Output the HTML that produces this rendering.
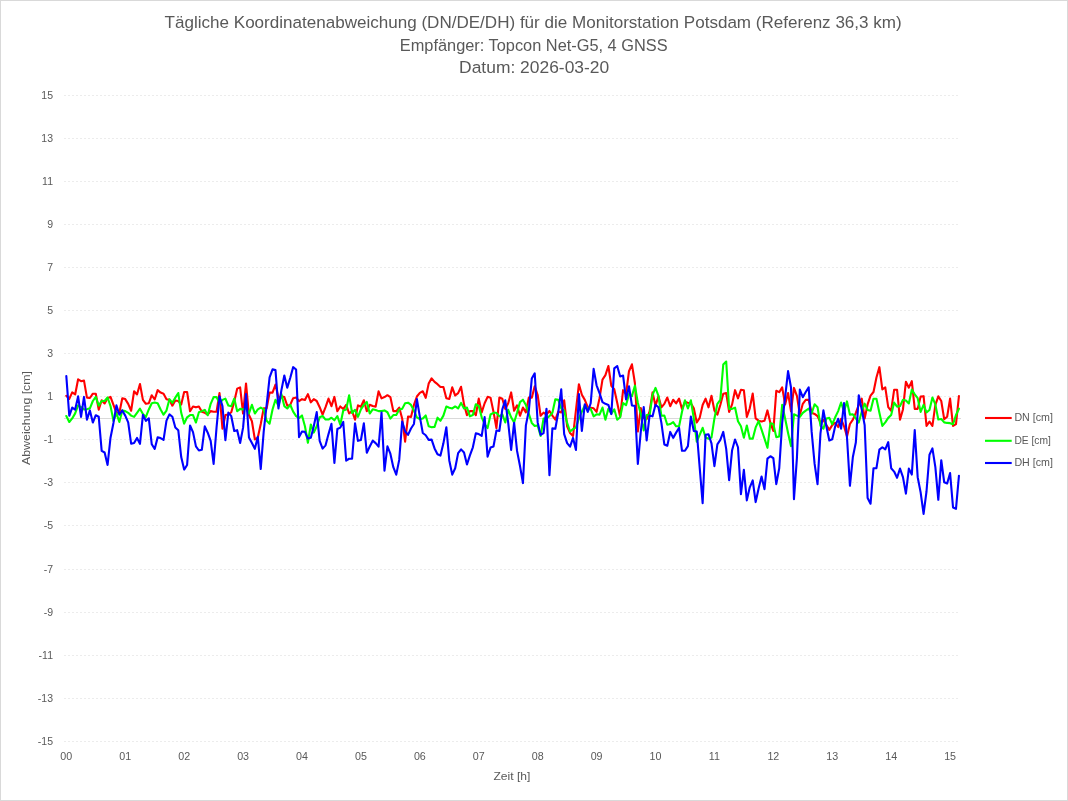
<!DOCTYPE html>
<html lang="de"><head><meta charset="utf-8"><title>Koordinatenabweichung Potsdam</title>
<style>html,body{margin:0;padding:0;background:#fff;}body{width:1068px;height:801px;overflow:hidden;font-family:"Liberation Sans",sans-serif;}#chart{position:absolute;left:0;top:0;width:1068px;height:801px;will-change:transform;}svg{display:block;}text{font-family:"Liberation Sans",sans-serif;fill:#595959}</style></head><body>
<div id="chart">
<svg width="1068" height="801" viewBox="0 0 1068 801">
<rect x="0" y="0" width="1068" height="801" fill="#ffffff"/>
<rect x="0.5" y="0.5" width="1067" height="800" fill="none" stroke="#d9d9d9" stroke-width="1"/>
<text x="164.6" y="28.0" font-size="17.20" textLength="737.1" lengthAdjust="spacingAndGlyphs">Tägliche Koordinatenabweichung (DN/DE/DH) für die Monitorstation Potsdam (Referenz 36,3 km)</text>
<text x="399.8" y="51.0" font-size="17.20" textLength="267.8" lengthAdjust="spacingAndGlyphs">Empfänger: Topcon Net-G5, 4 GNSS</text>
<text x="459.1" y="73.4" font-size="17.20" textLength="150.1" lengthAdjust="spacingAndGlyphs">Datum: 2026-03-20</text>
<g stroke="#d9d9d9" stroke-width="1" stroke-dasharray="1 3" fill="none">
<line x1="64.5" y1="95.50" x2="960.0" y2="95.50"/>
<line x1="64.5" y1="138.50" x2="960.0" y2="138.50"/>
<line x1="64.5" y1="181.50" x2="960.0" y2="181.50"/>
<line x1="64.5" y1="224.50" x2="960.0" y2="224.50"/>
<line x1="64.5" y1="267.50" x2="960.0" y2="267.50"/>
<line x1="64.5" y1="310.50" x2="960.0" y2="310.50"/>
<line x1="64.5" y1="353.50" x2="960.0" y2="353.50"/>
<line x1="64.5" y1="396.50" x2="960.0" y2="396.50"/>
<line x1="64.5" y1="439.50" x2="960.0" y2="439.50"/>
<line x1="64.5" y1="482.50" x2="960.0" y2="482.50"/>
<line x1="64.5" y1="525.50" x2="960.0" y2="525.50"/>
<line x1="64.5" y1="569.50" x2="960.0" y2="569.50"/>
<line x1="64.5" y1="612.50" x2="960.0" y2="612.50"/>
<line x1="64.5" y1="655.50" x2="960.0" y2="655.50"/>
<line x1="64.5" y1="698.50" x2="960.0" y2="698.50"/>
<line x1="64.5" y1="741.50" x2="960.0" y2="741.50"/>
</g>
<line x1="64.0" y1="418.50" x2="961.0" y2="418.50" stroke="#d9d9d9" stroke-width="1"/>
<g font-size="10.50" text-anchor="end">
<text x="53.0" y="98.70">15</text>
<text x="53.0" y="141.70">13</text>
<text x="53.0" y="184.70">11</text>
<text x="53.0" y="227.70">9</text>
<text x="53.0" y="270.70">7</text>
<text x="53.0" y="313.70">5</text>
<text x="53.0" y="356.70">3</text>
<text x="53.0" y="399.70">1</text>
<text x="53.0" y="442.70">-1</text>
<text x="53.0" y="485.70">-3</text>
<text x="53.0" y="528.70">-5</text>
<text x="53.0" y="572.70">-7</text>
<text x="53.0" y="615.70">-9</text>
<text x="53.0" y="658.70">-11</text>
<text x="53.0" y="701.70">-13</text>
<text x="53.0" y="744.70">-15</text>
</g>
<g font-size="10.70" text-anchor="middle">
<text x="66.32" y="759.7">00</text>
<text x="125.24" y="759.7">01</text>
<text x="184.16" y="759.7">02</text>
<text x="243.08" y="759.7">03</text>
<text x="301.99" y="759.7">04</text>
<text x="360.91" y="759.7">05</text>
<text x="419.83" y="759.7">06</text>
<text x="478.75" y="759.7">07</text>
<text x="537.67" y="759.7">08</text>
<text x="596.58" y="759.7">09</text>
<text x="655.50" y="759.7">10</text>
<text x="714.42" y="759.7">11</text>
<text x="773.34" y="759.7">12</text>
<text x="832.26" y="759.7">13</text>
<text x="891.17" y="759.7">14</text>
<text x="950.09" y="759.7">15</text>
</g>
<text x="493.4" y="780.0" font-size="11.70" textLength="37.0" lengthAdjust="spacingAndGlyphs">Zeit [h]</text>
<text transform="translate(30.0 465.0) rotate(-90)" font-size="11.70" textLength="94.0" lengthAdjust="spacingAndGlyphs">Abweichung [cm]</text>
<polyline points="66.32,395.79 69.27,398.93 72.21,392.42 75.16,394.43 78.11,379.28 81.05,381.17 84.00,380.62 86.94,397.64 89.89,397.98 92.84,393.71 95.78,393.71 98.73,409.60 101.67,400.29 104.62,403.42 107.57,398.20 110.51,396.92 113.46,404.94 116.40,412.81 119.35,412.81 122.30,398.20 125.24,399.10 128.19,403.82 131.13,410.72 134.08,391.30 137.02,394.43 139.97,384.00 142.92,399.89 145.86,403.82 148.81,403.26 151.75,395.23 154.70,399.49 157.65,390.18 160.59,392.58 163.54,393.71 166.48,399.33 169.43,399.89 172.38,405.67 175.32,400.45 178.27,401.01 181.21,404.54 184.16,392.02 187.10,392.02 190.05,411.29 193.00,406.47 195.94,407.35 198.89,406.47 201.83,411.69 204.78,412.81 207.73,414.66 210.67,411.12 213.62,411.69 216.56,411.69 219.51,392.98 222.46,428.70 225.40,415.06 228.35,414.49 231.29,412.25 234.24,401.57 237.19,388.65 240.13,387.37 243.08,413.53 246.02,383.43 248.97,415.06 251.91,421.24 254.86,439.38 257.81,437.53 260.75,424.04 263.70,408.31 266.64,408.31 269.59,392.58 272.54,392.58 275.48,384.56 278.43,397.80 281.37,396.36 284.32,397.08 287.27,405.67 290.21,404.94 293.16,398.20 296.10,397.48 299.05,401.17 301.99,399.16 304.94,400.05 307.89,394.11 310.83,402.30 313.78,399.16 316.72,401.01 319.67,407.19 322.62,414.66 325.56,407.19 328.51,398.60 331.45,406.23 334.40,396.92 337.35,411.29 340.29,406.47 343.24,409.04 346.18,404.78 349.13,413.53 352.08,410.96 355.02,419.71 357.97,405.34 360.91,406.79 363.86,400.29 366.80,411.29 369.75,404.78 372.70,406.07 375.64,406.63 378.59,391.30 381.53,398.36 384.48,397.08 387.43,395.23 390.37,397.08 393.32,411.12 396.26,411.12 399.21,407.59 402.16,418.43 405.10,441.62 408.05,416.58 410.99,416.90 413.94,404.94 416.89,396.52 419.83,392.87 422.78,391.30 425.72,397.80 428.67,383.60 431.61,378.38 434.56,381.91 437.51,384.16 440.45,386.97 443.40,386.97 446.34,398.20 449.29,398.93 452.24,387.37 455.18,395.56 458.13,393.15 461.07,386.80 464.02,404.38 466.97,415.22 469.91,411.12 472.86,411.12 475.80,415.22 478.75,398.60 481.69,412.41 484.64,403.26 487.59,396.85 490.53,397.64 493.48,411.69 496.42,428.14 499.37,397.48 502.32,398.76 505.26,409.04 508.21,403.26 511.15,392.42 514.10,410.72 517.05,405.34 519.99,415.78 522.94,407.59 525.88,412.41 528.83,397.48 531.78,397.80 534.72,386.24 537.67,395.00 540.61,415.78 543.56,412.65 546.50,414.66 549.45,410.96 552.40,415.62 555.34,419.71 558.29,411.52 561.23,412.41 564.18,400.29 567.13,426.29 570.07,433.03 573.02,436.00 575.96,410.00 578.91,384.22 581.86,394.83 584.80,399.89 587.75,407.19 590.69,407.75 593.64,408.31 596.58,411.85 599.53,398.20 602.48,379.66 605.42,375.17 608.37,366.02 611.31,385.84 614.26,389.21 617.21,402.70 620.15,416.90 623.10,390.18 626.04,394.10 628.99,371.24 631.94,364.33 634.88,383.03 637.83,431.51 640.77,408.15 643.72,418.00 646.67,419.10 649.61,411.50 652.56,392.42 655.50,405.67 658.45,396.36 661.39,407.35 664.34,403.82 667.29,397.48 670.23,406.23 673.18,399.73 676.12,403.42 679.07,398.60 682.02,409.04 684.96,401.97 687.91,402.70 690.85,403.26 693.80,408.31 696.75,422.52 699.69,417.87 702.64,404.94 705.58,398.60 708.53,407.35 711.48,395.79 714.42,410.56 717.37,414.66 720.31,404.94 723.26,393.71 726.20,393.15 729.15,411.85 732.10,404.38 735.04,390.18 737.99,398.36 740.93,389.78 743.88,390.34 746.83,416.90 749.77,408.31 752.72,393.55 755.66,418.43 758.61,420.67 761.56,421.40 764.50,420.67 767.45,410.40 770.39,422.92 773.34,430.95 776.28,390.74 779.23,392.18 782.18,387.37 785.12,404.54 788.07,392.98 791.01,411.29 793.96,387.93 796.91,395.96 799.85,414.66 802.80,403.82 805.74,399.89 808.69,399.89 811.64,412.81 814.58,413.93 817.53,416.18 820.47,422.52 823.42,419.95 826.37,425.17 829.31,429.82 832.26,425.17 835.20,422.76 838.15,427.02 841.09,418.83 844.04,426.29 846.99,436.57 849.93,424.04 852.88,419.55 855.82,412.81 858.77,404.94 861.72,398.60 864.66,418.59 867.61,404.38 870.55,395.67 873.50,392.02 876.45,377.42 879.39,367.14 882.34,389.38 885.28,387.37 888.23,407.19 891.17,410.72 894.12,389.78 897.07,389.78 900.01,419.71 902.96,409.44 905.90,381.75 908.85,387.69 911.80,381.19 914.74,408.88 917.69,408.88 920.63,396.52 923.58,396.18 926.53,425.89 929.47,421.64 932.42,425.89 935.36,404.94 938.31,396.36 941.26,401.01 944.20,419.15 947.15,416.74 950.09,398.60 953.04,425.89 955.98,424.04 958.93,396.13" fill="none" stroke="#ff0000" stroke-width="2.1" stroke-linejoin="round" stroke-linecap="round"/>
<polyline points="66.32,416.02 69.27,421.96 72.21,418.43 75.16,413.37 78.11,405.34 81.05,407.19 84.00,409.44 86.94,409.21 89.89,408.31 92.84,401.01 95.78,396.92 98.73,405.67 101.67,401.01 104.62,401.01 107.57,397.48 110.51,406.07 113.46,420.84 116.40,413.21 119.35,421.96 122.30,410.40 125.24,411.12 128.19,412.81 131.13,415.62 134.08,416.90 137.02,412.81 139.97,408.71 142.92,413.93 145.86,416.90 148.81,409.44 151.75,403.26 154.70,402.53 157.65,403.26 160.59,409.44 163.54,414.66 166.48,410.56 169.43,399.16 172.38,402.86 175.32,397.64 178.27,392.98 181.21,412.81 184.16,423.64 187.10,417.30 190.05,415.06 193.00,415.06 195.94,422.52 198.89,412.25 201.83,411.12 204.78,409.84 207.73,415.22 210.67,403.82 213.62,397.08 216.56,397.08 219.51,403.42 222.46,399.89 225.40,398.60 228.35,405.51 231.29,406.23 234.24,398.60 237.19,411.29 240.13,408.88 243.08,409.44 246.02,408.15 248.97,413.53 251.91,404.78 254.86,413.53 257.81,409.44 260.75,407.59 263.70,409.44 266.64,420.67 269.59,423.64 272.54,409.44 275.48,399.73 278.43,405.67 281.37,394.11 284.32,406.07 287.27,408.48 290.21,404.78 293.16,411.69 296.10,416.18 299.05,418.03 301.99,415.46 304.94,426.29 307.89,442.75 310.83,424.44 313.78,432.63 316.72,426.29 319.67,417.30 322.62,416.02 325.56,419.55 328.51,419.55 331.45,417.70 334.40,420.27 337.35,416.02 340.29,424.77 343.24,410.56 346.18,409.44 349.13,395.23 352.08,412.97 355.02,409.84 357.97,416.90 360.91,409.44 363.86,404.94 366.80,401.97 369.75,413.53 372.70,409.28 375.64,410.00 378.59,411.12 381.53,411.12 384.48,410.40 387.43,412.25 390.37,418.59 393.32,415.06 396.26,415.06 399.21,409.44 402.16,408.88 405.10,403.26 408.05,402.70 410.99,404.94 413.94,410.56 416.89,417.30 419.83,419.15 422.78,418.43 425.72,415.46 428.67,426.29 431.61,427.19 434.56,426.85 437.51,417.70 440.45,420.84 443.40,415.62 446.34,406.47 449.29,407.75 452.24,408.48 455.18,406.47 458.13,408.48 461.07,402.87 464.02,408.48 466.97,407.59 469.91,416.34 472.86,415.06 475.80,404.22 478.75,406.07 481.69,417.30 484.64,424.04 487.59,428.14 490.53,414.49 493.48,412.81 496.42,412.81 499.37,416.34 502.32,414.33 505.26,422.52 508.21,409.84 511.15,417.30 514.10,422.52 517.05,412.81 519.99,402.13 522.94,399.73 525.88,404.94 528.83,413.93 531.78,422.92 534.72,425.89 537.67,425.57 540.61,436.00 543.56,418.43 546.50,418.43 549.45,416.18 552.40,412.81 555.34,399.33 558.29,399.89 561.23,408.31 564.18,410.56 567.13,422.92 570.07,431.51 573.02,429.10 575.96,427.42 578.91,418.43 581.86,411.69 584.80,405.34 587.75,409.44 590.69,408.88 593.64,416.34 596.58,414.33 599.53,414.66 602.48,407.59 605.42,419.71 608.37,408.71 611.31,413.53 614.26,409.28 617.21,419.71 620.15,417.30 623.10,403.10 626.04,405.11 628.99,394.11 631.94,396.12 634.88,385.68 637.83,402.70 640.77,413.93 643.72,430.39 646.67,415.06 649.61,415.06 652.56,394.83 655.50,387.93 658.45,395.96 661.39,415.78 664.34,415.46 667.29,424.77 670.23,424.04 673.18,422.20 676.12,426.29 679.07,426.29 682.02,411.69 684.96,400.29 687.91,408.48 690.85,400.29 693.80,418.43 696.75,441.62 699.69,434.72 702.64,427.82 705.58,437.53 708.53,438.81 711.48,437.53 714.42,418.43 717.37,403.82 720.31,399.89 723.26,364.49 726.20,361.52 729.15,408.88 732.10,408.88 735.04,407.59 737.99,421.24 740.93,426.29 743.88,437.69 746.83,425.57 749.77,438.65 752.72,438.65 755.66,427.42 758.61,421.07 761.56,429.66 764.50,438.65 767.45,447.80 770.39,423.32 773.34,424.04 776.28,437.13 779.23,436.40 782.18,404.78 785.12,418.43 788.07,433.03 791.01,446.12 793.96,414.33 796.91,415.62 799.85,416.90 802.80,412.81 805.74,410.56 808.69,408.71 811.64,413.53 814.58,404.22 817.53,407.19 820.47,425.73 823.42,428.70 826.37,418.43 829.31,417.87 832.26,424.21 835.20,417.30 838.15,411.12 841.09,402.53 844.04,411.29 846.99,401.41 849.93,414.66 852.88,414.33 855.82,418.43 858.77,422.52 861.72,411.69 864.66,403.66 867.61,410.00 870.55,410.72 873.50,398.76 876.45,398.76 879.39,412.81 882.34,425.89 885.28,422.36 888.23,417.87 891.17,415.06 894.12,402.53 897.07,406.63 900.01,406.07 902.96,399.73 905.90,400.45 908.85,403.42 911.80,389.61 914.74,394.27 917.69,398.20 920.63,411.85 923.58,404.78 926.53,412.41 929.47,410.00 932.42,397.48 935.36,404.38 938.31,419.55 941.26,418.99 944.20,422.36 947.15,422.92 950.09,423.15 953.04,424.21 955.98,415.06 958.93,408.71" fill="none" stroke="#00ff00" stroke-width="2.1" stroke-linejoin="round" stroke-linecap="round"/>
<polyline points="66.32,376.13 69.27,415.78 72.21,407.59 75.16,409.60 78.11,396.36 81.05,416.90 84.00,396.92 86.94,419.71 89.89,410.40 92.84,422.52 95.78,415.23 98.73,416.74 101.67,450.79 104.62,452.47 107.57,464.99 110.51,437.70 113.46,422.92 116.40,405.34 119.35,414.66 122.30,410.40 125.24,415.62 128.19,422.36 131.13,443.71 134.08,442.92 137.02,437.93 139.97,443.87 142.92,414.89 145.86,420.84 148.81,418.27 151.75,444.27 154.70,448.93 157.65,437.37 160.59,438.09 163.54,439.94 166.48,420.67 169.43,414.33 172.38,416.74 175.32,427.42 178.27,430.22 181.21,457.08 184.16,469.60 187.10,464.94 190.05,425.51 193.00,432.13 195.94,446.40 198.89,450.50 201.83,449.78 204.78,426.36 207.73,432.70 210.67,440.84 213.62,463.98 216.56,427.42 219.51,396.36 222.46,406.07 225.40,440.16 228.35,412.65 231.29,416.18 234.24,431.01 237.19,430.17 240.13,442.97 243.08,427.64 246.02,394.11 248.97,437.47 251.91,443.09 254.86,448.81 257.81,436.75 260.75,469.04 263.70,431.57 266.64,404.94 269.59,377.42 272.54,369.39 275.48,370.11 278.43,408.48 281.37,390.34 284.32,375.57 287.27,387.69 290.21,377.98 293.16,367.14 296.10,369.55 299.05,437.13 301.99,431.57 304.94,431.85 307.89,438.60 310.83,437.75 313.78,426.24 316.72,412.09 319.67,440.84 322.62,448.59 325.56,445.34 328.51,434.10 331.45,423.83 334.40,462.86 337.35,429.04 340.29,427.64 343.24,421.86 346.18,460.61 349.13,458.76 352.08,458.76 355.02,423.27 357.97,440.84 360.91,440.00 363.86,423.27 366.80,452.75 369.75,446.46 372.70,440.68 375.64,443.09 378.59,446.62 381.53,412.65 384.48,470.72 387.43,446.30 390.37,453.71 393.32,467.19 396.26,474.66 399.21,459.89 402.16,421.58 405.10,431.29 408.05,434.82 410.99,428.48 413.94,423.99 416.89,399.16 419.83,416.70 422.78,432.98 425.72,435.22 428.67,439.88 431.61,439.67 434.56,448.43 437.51,454.27 440.45,455.56 443.40,443.37 446.34,427.20 449.29,460.45 452.24,474.66 455.18,468.31 458.13,453.15 461.07,449.39 464.02,452.58 466.97,464.54 469.91,455.39 472.86,447.30 475.80,433.38 478.75,434.10 481.69,435.95 484.64,417.14 487.59,456.68 490.53,447.58 493.48,446.46 496.42,430.57 499.37,430.89 502.32,409.44 505.26,400.29 508.21,422.87 511.15,449.94 514.10,422.70 517.05,450.90 519.99,466.07 522.94,483.08 525.88,425.39 528.83,410.56 531.78,378.54 534.72,373.32 537.67,422.40 540.61,434.88 543.56,433.03 546.50,408.71 549.45,475.22 552.40,428.38 555.34,428.70 558.29,412.25 561.23,389.39 564.18,434.16 567.13,443.15 570.07,446.68 573.02,437.93 575.96,449.94 578.91,394.11 581.86,430.95 584.80,404.22 587.75,411.85 590.69,403.26 593.64,368.83 596.58,385.28 599.53,393.15 602.48,402.13 605.42,403.82 608.37,404.94 611.31,414.09 614.26,368.43 617.21,366.02 620.15,376.45 623.10,375.57 626.04,399.49 628.99,386.24 631.94,405.51 634.88,405.84 637.83,463.98 640.77,431.91 643.72,407.03 646.67,440.50 649.61,415.46 652.56,416.34 655.50,404.78 658.45,407.19 661.39,422.92 664.34,444.44 667.29,445.72 670.23,431.92 673.18,437.86 676.12,432.64 679.07,427.82 682.02,450.79 684.96,450.79 687.91,446.12 690.85,416.58 693.80,430.96 696.75,431.52 699.69,467.64 702.64,503.20 705.58,434.89 708.53,434.33 711.48,443.31 714.42,466.12 717.37,444.44 720.31,439.94 723.26,431.92 726.20,448.93 729.15,480.16 732.10,450.22 735.04,439.50 737.99,447.25 740.93,494.21 743.88,469.73 746.83,500.39 749.77,487.30 752.72,480.40 755.66,502.07 758.61,488.43 761.56,476.47 764.50,489.15 767.45,458.65 770.39,456.24 773.34,458.09 776.28,484.09 779.23,468.20 782.18,422.92 785.12,397.08 788.07,371.07 791.01,387.53 793.96,499.26 796.91,458.09 799.85,389.61 802.80,397.24 805.74,392.02 808.69,387.37 811.64,431.69 814.58,463.71 817.53,484.09 820.47,433.37 823.42,410.40 826.37,426.29 829.31,440.50 832.26,439.21 835.20,426.29 838.15,418.83 841.09,428.70 844.04,403.10 846.99,437.53 849.93,485.78 852.88,456.97 855.82,442.58 858.77,395.23 861.72,409.44 864.66,425.17 867.61,497.98 870.55,503.76 873.50,468.20 876.45,468.09 879.39,449.66 882.34,447.25 885.28,449.43 888.23,442.20 891.17,468.20 894.12,471.57 897.07,477.80 900.01,468.60 902.96,477.19 905.90,493.64 908.85,468.60 911.80,474.54 914.74,430.06 917.69,477.19 920.63,492.36 923.58,513.87 926.53,491.24 929.47,454.72 932.42,448.38 935.36,467.08 938.31,499.82 941.26,460.18 944.20,482.25 947.15,483.53 950.09,473.10 953.04,507.53 955.98,508.81 958.93,475.91" fill="none" stroke="#0000ff" stroke-width="2.1" stroke-linejoin="round" stroke-linecap="round"/>
<line x1="985.0" y1="418.0" x2="1011.7" y2="418.0" stroke="#ff0000" stroke-width="2.1"/>
<text x="1014.4" y="421.0" font-size="10.70" textLength="38.5" lengthAdjust="spacingAndGlyphs">DN [cm]</text>
<line x1="985.0" y1="440.8" x2="1011.7" y2="440.8" stroke="#00ff00" stroke-width="2.1"/>
<text x="1014.4" y="443.8" font-size="10.70" textLength="36.5" lengthAdjust="spacingAndGlyphs">DE [cm]</text>
<line x1="985.0" y1="463.0" x2="1011.7" y2="463.0" stroke="#0000ff" stroke-width="2.1"/>
<text x="1014.4" y="466.0" font-size="10.70" textLength="38.5" lengthAdjust="spacingAndGlyphs">DH [cm]</text>
</svg></div></body></html>
